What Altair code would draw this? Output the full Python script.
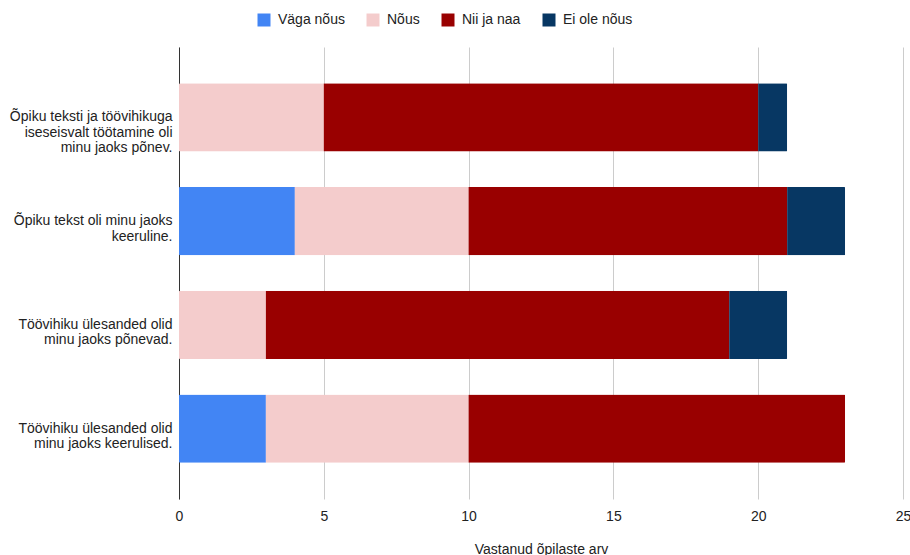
import altair as alt
import pandas as pd

categories = [
    "Õpiku teksti ja töövihikuga\niseseisvalt töötamine oli\nminu jaoks põnev.",
    "Õpiku tekst oli minu jaoks\nkeeruline.",
    "Töövihiku ülesanded olid\nminu jaoks põnevad.",
    "Töövihiku ülesanded olid\nminu jaoks keerulised.",
]
series = ["Väga nõus", "Nõus", "Nii ja naa", "Ei ole nõus"]
colors = ["#4285f4", "#f4cccc", "#990000", "#073763"]
values = {
    "Väga nõus": [0, 4, 0, 3],
    "Nõus": [5, 6, 3, 7],
    "Nii ja naa": [15, 11, 16, 13],
    "Ei ole nõus": [1, 2, 2, 0],
}

rows = []
for si, s in enumerate(series):
    for ci, c in enumerate(categories):
        v = values[s][ci]
        if v > 0:
            rows.append({"kategooria": c, "vastus": s, "arv": v, "jrk": si})
df = pd.DataFrame(rows)

font = "Liberation Sans"

chart = alt.Chart(df).mark_bar(cornerRadius=1).encode(
    y=alt.Y(
        "kategooria:N",
        sort=categories,
        title=None,
        scale=alt.Scale(paddingInner=0.344, paddingOuter=0.35),
        axis=alt.Axis(
            labelExpr="split(datum.label, '\\n')",
            labelFont=font,
            labelFontSize=14,
            labelColor="#222222",
            labelLineHeight=15.5,
            labelPadding=7,
            ticks=False,
            domainColor="#333333",
            domainWidth=1,
            grid=False,
            labelLimit=300,
        ),
    ),
    x=alt.X(
        "sum(arv):Q",
        title="Vastanud õpilaste arv",
        scale=alt.Scale(domain=[0, 25]),
        axis=alt.Axis(
            values=[0, 5, 10, 15, 20, 25],
            labelFont=font,
            labelFontSize=14,
            labelColor="#222222",
            labelPadding=10,
            labelFlush=False,
            ticks=False,
            domain=False,
            gridColor="#cccccc",
            titleFont=font,
            titleFontSize=14,
            titleFontWeight="normal",
            titleColor="#222222",
            titlePadding=19,
        ),
    ),
    color=alt.Color(
        "vastus:N",
        sort=series,
        scale=alt.Scale(domain=series, range=colors),
        legend=alt.Legend(
            title=None,
            orient="none",
            direction="horizontal",
            legendX=78,
            legendY=-34,
            symbolType="square",
            symbolSize=169,
            symbolStrokeWidth=0,
            symbolOpacity=1,
            labelFont=font,
            labelFontSize=14,
            labelColor="#222222",
            labelOffset=7,
            columnPadding=21,
        ),
    ),
    order=alt.Order("jrk:Q", sort="ascending"),
).properties(
    width=724,
    height=452,
    autosize=alt.AutoSizeParams(type="none"),
    padding={"left": 179, "top": 47, "right": 7, "bottom": 56},
).configure_view(stroke=None)

chart.save("out.html", embed_options={"renderer": "svg", "actions": False})
